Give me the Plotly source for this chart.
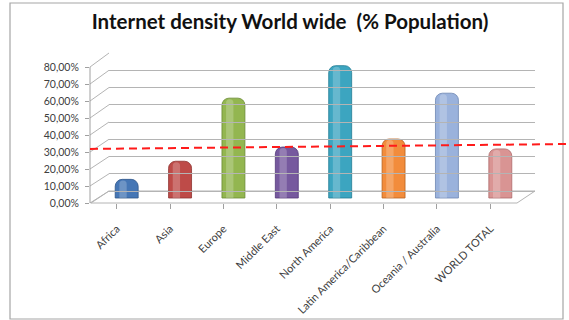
import plotly.graph_objects as go

# ---- data ----
regions = ["Africa", "Asia", "Europe", "Middle East", "North America",
           "Latin America/Caribbean", "Oceania / Australia", "WORLD TOTAL"]
penetration_pct = [10.9, 21.5, 58.4, 29.8, 77.4, 34.5, 61.3, 28.7]
bar_colors = ["#4576B5", "#BE4B48", "#93B650", "#76599E", "#3CA5C0",
              "#F28C3C", "#9AB2DC", "#D99493"]
edge_colors = ["#2E5689", "#8E3330", "#6A8A33", "#53397A", "#217B93",
               "#B8621F", "#6D86B3", "#AD6A69"]
y_ticks = [0, 10, 20, 30, 40, 50, 60, 70, 80]
y_tick_labels = ["0,00%", "10,00%", "20,00%", "30,00%", "40,00%",
                 "50,00%", "60,00%", "70,00%", "80,00%"]
dashed_line_pct = [31.8, 34.7]
title_text = "Internet density World wide \u00a0(% Population)"

# ---- geometry (pixels) ----
W, H = 569, 320
L, R, T, B = 90, 535, 53, 203          # plot box
PW, PH = R - L, B - T
DX, DY = 18, 12                          # 3D depth offset
FRONT_RIGHT = 517
n = len(regions)
unit = (FRONT_RIGHT - L) / n             # px per category at front

front_scale = 1.70                       # px per % on the labelled (front) axis
back_scale = 1.725                       # px per % on the back wall
bar_base_px = 198
bar_scale = 1.71


def px_x(p):
    return (p - L) / PW


def px_y(p):
    return (B - p) / PH


fig = go.Figure()

# bars (main)
bar_w = 0.43
shift = (DX / 2 + 1) / unit
fig.add_trace(go.Bar(
    x=list(range(n)), y=penetration_pct, xaxis="x", yaxis="y3",
    width=bar_w, offset=-bar_w / 2 + shift,
    marker=dict(color=bar_colors, line=dict(color=edge_colors, width=0.8),
                cornerradius=7),
    hoverinfo="skip", showlegend=False,
))
# highlight strip to give a cylindrical look
hw = bar_w * 0.32
fig.add_trace(go.Bar(
    x=list(range(n)), y=[v - 0.6 for v in penetration_pct], xaxis="x", yaxis="y3",
    width=hw, offset=-bar_w / 2 + shift + bar_w * 0.18,
    marker=dict(color="rgba(255,255,255,0.22)", line=dict(width=0), cornerradius=4),
    hoverinfo="skip", showlegend=False,
))
# invisible trace for the back-wall grid subplot
fig.add_trace(go.Scatter(x=[0], y=[0], xaxis="x2", yaxis="y2", mode="markers",
                         marker=dict(opacity=0), hoverinfo="skip", showlegend=False))

shapes = []
# outer chart frame
shapes.append(dict(type="rect", xref="paper", yref="paper",
                   x0=px_x(10), x1=px_x(563), y0=px_y(319), y1=px_y(3),
                   line=dict(color="#A6A6A6", width=1.2), layer="below"))
# floor
path = "M {} {} L {} {} L {} {} L {} {} Z".format(
    px_x(L + 1), px_y(B), px_x(FRONT_RIGHT), px_y(B),
    px_x(FRONT_RIGHT + DX), px_y(B - DY), px_x(L + 1 + DX), px_y(B - DY))
shapes.append(dict(type="path", xref="paper", yref="paper", path=path,
                   line=dict(color="#B4B4B4", width=1), layer="below"))
# left wall diagonals
for v in y_ticks:
    shapes.append(dict(type="line", xref="paper", yref="paper",
                       x0=px_x(L), y0=px_y(B - front_scale * v),
                       x1=px_x(L + DX + 1), y1=px_y(B - DY - back_scale * v),
                       line=dict(color="#B4B4B4", width=1), layer="below"))
# front vertical axis line
shapes.append(dict(type="line", xref="paper", yref="y", x0=0, x1=0,
                   y0=y_ticks[0], y1=y_ticks[-1],
                   line=dict(color="#A0A0A0", width=1)))
# red dashed reference line
shapes.append(dict(type="line", xref="paper", yref="y",
                   x0=px_x(90), x1=px_x(569),
                   y0=dashed_line_pct[0], y1=dashed_line_pct[1],
                   line=dict(color="#FF1A1A", width=2, dash="8px,5px"), layer="above"))

font_family = "Lato, Open Sans, sans-serif"

fig.update_layout(
    width=W, height=H,
    margin=dict(l=L, r=W - R, t=T, b=H - B, pad=0, autoexpand=False),
    paper_bgcolor="white", plot_bgcolor="rgba(0,0,0,0)",
    barmode="overlay",
    font=dict(family=font_family, color="#404040"),
    title=dict(text=title_text, x=290 / W, xanchor="center", xref="container",
               y=1 - 22 / H, yanchor="middle", yref="container",
               font=dict(family=font_family, size=20.5, color="#111111", weight="bold")),
    shapes=shapes,
    xaxis=dict(domain=[0, 1], range=[-0.5, n - 0.5 + DX / unit], automargin=False,
               tickmode="array", tickvals=list(range(n)), ticktext=regions,
               tickangle=-45, tickson="boundaries", ticks="outside", ticklen=5,
               tickcolor="#A0A0A0", showline=False, showgrid=False, zeroline=False,
               ticklabelstandoff=9,
               tickfont=dict(size=11, color="#404040"), fixedrange=True),
    yaxis=dict(range=[0, PH / front_scale], tickmode="array", tickvals=y_ticks,
               automargin=False,
               ticktext=y_tick_labels, ticks="outside", ticklen=4,
               ticklabelstandoff=4,
               tickcolor="#A0A0A0", showgrid=False, zeroline=False, showline=False,
               tickfont=dict(size=10.5, color="#404040"), fixedrange=True),
    xaxis2=dict(domain=[px_x(L + DX + 1), 1], range=[0, 1], visible=False,
                anchor="y2", fixedrange=True),
    yaxis2=dict(domain=[0, 1], anchor="x2",
                range=[-DY / back_scale, (B - DY - T) / back_scale],
                tickmode="array", tickvals=y_ticks, showticklabels=False,
                showgrid=True, gridcolor="#B4B4B4", gridwidth=1, zeroline=False,
                ticks="", fixedrange=True),
    yaxis3=dict(domain=[0, 1], anchor="x", overlaying="y",
                range=[-(B - bar_base_px) / bar_scale, (bar_base_px - T) / bar_scale],
                visible=False, fixedrange=True),
)

fig.write_html("out.html", config={"displayModeBar": False})
